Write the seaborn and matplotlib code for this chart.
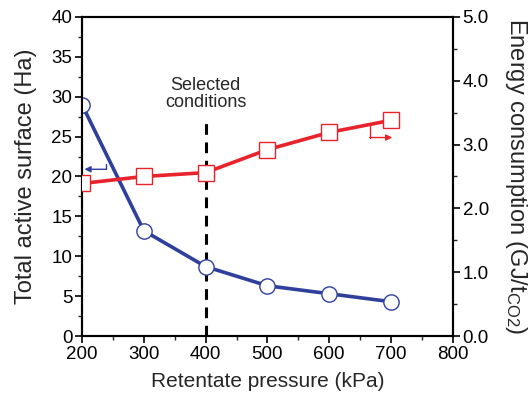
import matplotlib
matplotlib.use("Agg")
import matplotlib.pyplot as plt
from matplotlib.ticker import MultipleLocator, FormatStrFormatter
import seaborn as sns
import pandas as pd

# Retentate pressure sweep
pressure_kpa = [200, 300, 400, 500, 600, 700]
surface_ha = [29.0, 13.2, 8.7, 6.3, 5.3, 4.3]
energy_gj_per_t = [2.39, 2.50, 2.56, 2.92, 3.19, 3.38]
selected_pressure = 400

x_ticks = [200, 300, 400, 500, 600, 700, 800]
left_ticks = [0, 5, 10, 15, 20, 25, 30, 35, 40]
right_ticks = [0.0, 1.0, 2.0, 3.0, 4.0, 5.0]

df = pd.DataFrame({"pressure": pressure_kpa, "surface": surface_ha, "energy": energy_gj_per_t})

sns.set_style("ticks")
plt.rcParams["font.family"] = ["Liberation Sans", "DejaVu Sans"]
plt.rcParams["mathtext.fontset"] = "custom"
plt.rcParams["mathtext.rm"] = "Liberation Sans"
plt.rcParams["mathtext.it"] = "Liberation Sans"

BLUE = "#2e3f9c"
RED = "#e8232b"

fig = plt.figure(figsize=(5.29, 3.93), dpi=100)
ax = fig.add_axes([0.155, 0.145, 0.701, 0.812])
ax2 = ax.twinx()

sns.lineplot(data=df, x="pressure", y="surface", ax=ax, color=BLUE, lw=2.6,
             marker="o", markersize=11, markerfacecolor="white",
             markeredgecolor=BLUE, markeredgewidth=1.0, zorder=3)
sns.lineplot(data=df, x="pressure", y="energy", ax=ax2, color=RED, lw=2.6,
             marker="s", markersize=11, markerfacecolor="white",
             markeredgecolor=RED, markeredgewidth=1.0, zorder=3)

# selected operating point
ax.plot([selected_pressure, selected_pressure], [0, 27.5], color="black",
        lw=2.2, ls=(0, (3.5, 2.5)), zorder=2)
ax.text(selected_pressure, 28.2, "Selected\nconditions", ha="center", va="bottom",
        fontsize=13, linespacing=1.0)

# axis indicator arrows
ax.plot([239, 239], [21.5, 20.9], color=BLUE, lw=1.0)
ax.annotate("", xy=(204, 20.9), xytext=(239.5, 20.9),
            arrowprops=dict(arrowstyle="-|>", color=BLUE, lw=1.0,
                            mutation_scale=9, shrinkA=0, shrinkB=0))
ax2.plot([666, 666], [3.29, 3.11], color=RED, lw=1.0)
ax2.annotate("", xy=(702, 3.11), xytext=(665.5, 3.11),
             arrowprops=dict(arrowstyle="-|>", color=RED, lw=1.0,
                             mutation_scale=9, shrinkA=0, shrinkB=0))

ax.set_xlim(200, 800)
ax.set_ylim(0, 40)
ax2.set_ylim(0, 5)
ax.set_xticks(x_ticks)
ax.set_yticks(left_ticks)
ax2.set_yticks(right_ticks)
ax2.yaxis.set_major_formatter(FormatStrFormatter("%.1f"))
ax.xaxis.set_minor_locator(MultipleLocator(50))
ax.yaxis.set_minor_locator(MultipleLocator(2.5))
ax2.yaxis.set_minor_locator(MultipleLocator(0.5))

for a in (ax, ax2):
    for sp in a.spines.values():
        sp.set_visible(True)
        sp.set_linewidth(1.5)
        sp.set_color("black")
    a.tick_params(which="major", direction="out", length=5, width=1.2,
                  labelsize=13.5, colors="black", pad=2)
    a.tick_params(which="minor", direction="out", length=3, width=1.0)
ax.tick_params(axis="y", which="both", right=False)
ax2.tick_params(axis="y", which="both", left=False)

ax.set_xlabel("Retentate pressure (kPa)", fontsize=15, labelpad=7)
ax.set_ylabel("Total active surface (Ha)", fontsize=17, labelpad=10)
ax2.set_ylabel(r"Energy consumption (GJ/t$_{\mathrm{CO2}}$)", fontsize=17,
               rotation=270, labelpad=10, va="bottom")

fig.savefig("out.png", dpi=100)
